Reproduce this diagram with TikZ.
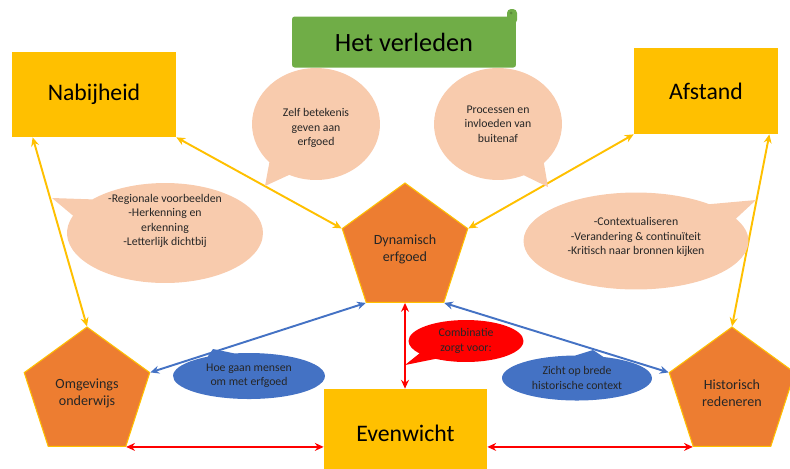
\documentclass[tikz,border=0pt]{standalone}
\usepackage{fontspec}
\setmainfont{Carlito}
\usetikzlibrary{shapes.geometric,shapes.callouts,arrows.meta,calc}

\definecolor{geel}{HTML}{FFC000}
\definecolor{oranje}{HTML}{ED7D31}
\definecolor{perzik}{HTML}{F8CBAD}
\definecolor{groen}{HTML}{70AD47}
\definecolor{blauw}{HTML}{4472C4}
\definecolor{rood}{HTML}{FF0000}
\definecolor{tekst}{HTML}{262626}

\tikzset{
	blok/.style={fill=geel, inner sep=0pt, text=black, font=\fontsize{13.5}{16}\selectfont},
	vijfhoek/.style={regular polygon, regular polygon sides=5, fill=oranje, draw=geel, line width=0.6pt,
		inner sep=0pt, minimum size=2.64cm, align=center, text=tekst, font=\fontsize{8}{9.6}\selectfont},
	wolk/.style={ellipse callout, fill=perzik, inner sep=0pt, callout pointer arc=22, align=center,
		text=tekst, font=\fontsize{6.7}{8.2}\selectfont},
	wolktekst/.style={align=center, inner sep=0pt, text=tekst, font=\fontsize{6.7}{8.2}\selectfont},
	pijl/.style={{Stealth[length=5pt,width=4.5pt]}-{Stealth[length=5pt,width=4.5pt]}, line width=1.1pt},
}

\begin{document}
\begin{tikzpicture}[x=0.02cm, y=-0.02cm]
		%%%%% START %%%%%
		\useasboundingbox (0, 0) rectangle (790, 468);
		
		% banner
		\node[fill=groen, rounded corners=1.5pt, minimum width=4.48cm, minimum height=1.02cm, inner sep=0pt,
			font=\fontsize{15}{18}\selectfont] (ban) at (404, 42) {Het verleden};
		\fill[groen, rounded corners=0.08cm] (507, 9) rectangle (517, 24);
		\fill[groen!80!black] (511, 13) circle (0.03cm);
		
		% blokken
		\node[blok, minimum width=3.28cm, minimum height=1.7cm] (nab) at (94, 94.5) {Nabijheid};
		\node[blok, minimum width=2.88cm, minimum height=1.72cm] (afs) at (706, 91) {Afstand};
		\node[blok, minimum width=3.26cm, minimum height=1.76cm] (ev) at (405.5, 433) {Evenwicht};
		
		% vijfhoeken
		\node[vijfhoek] (dyn) at (405, 249) {Dynamisch\\erfgoed};
		\node[vijfhoek] (omg) at (87, 393) {Omgevings\\onderwijs};
		\node[vijfhoek] (his) at (732, 393) {Historisch\\redeneren};
		
		% pijlen
		\draw[pijl, geel] (nab.south east) -- (dyn.corner 2);
		\draw[pijl, geel] (afs.south west) -- (dyn.corner 5);
		\draw[pijl, geel] ($(nab.south west)+(21, 0)$) -- (omg.corner 1);
		\draw[pijl, geel] ($(afs.south east)+(-9, 0)$) -- (his.corner 1);
		\draw[pijl, blauw] (dyn.corner 3) -- (omg.corner 5);
		\draw[pijl, blauw] (dyn.corner 4) -- (his.corner 2);
		\draw[pijl, rood] (dyn.south) -- (ev.north -| dyn.south);
		\draw[pijl, rood] (omg.corner 4) -- (ev.west |- omg.corner 4);
		\draw[pijl, rood] (ev.east |- his.corner 3) -- (his.corner 3);
		
		% wolkjes
		\coordinate (pzelf) at (265, 186);
		\coordinate (pproc) at (548, 187);
		\coordinate (preg) at (52, 198);
		\coordinate (pcon) at (756, 200);
		\coordinate (phoe) at (213, 349);
		\coordinate (pcom) at (405, 365);
		\coordinate (pzic) at (593, 350);
		
		\node[wolk, minimum width=2.56cm, minimum height=2.24cm, callout absolute pointer={(pzelf)}]
			(zelf) at (316, 124) {};
		\node[wolktekst] (zelftekst) at (316, 128) {Zelf betekenis\\geven aan\\erfgoed};
		\node[wolk, minimum width=2.56cm, minimum height=2.24cm, callout absolute pointer={(pproc)}]
			(proc) at (498, 124) {Processen en\\invloeden van\\buitenaf};
		\node[wolk, minimum width=3.92cm, minimum height=2cm, callout absolute pointer={(preg)}]
			(reg) at (165, 233) {};
		\node[wolktekst] (regtekst) at (165, 221) {-Regionale voorbeelden\\-Herkenning en\\erkenning\\-Letterlijk dichtbij};
		\node[wolk, minimum width=4.5cm, minimum height=1.94cm, callout absolute pointer={(pcon)}]
			(con) at (636, 241) {};
		\node[wolktekst] (contekst) at (636, 237) {-Contextualiseren\\-Verandering \& continuïteit\\-Kritisch naar bronnen kijken};
		\node[wolk, fill=blauw, minimum width=3.04cm, minimum height=0.92cm, callout absolute pointer={(phoe)}]
			(hoe) at (249, 376) {Hoe gaan mensen\\om met erfgoed};
		\node[wolk, fill=rood, minimum width=2.3cm, minimum height=0.84cm, callout absolute pointer={(pcom)}]
			(com) at (466, 341) {Combinatie\\zorgt voor:};
		\node[wolk, fill=blauw, minimum width=3cm, minimum height=0.9cm, callout absolute pointer={(pzic)}]
			(zic) at (577, 378) {Zicht op brede\\historische context};
		
		%%%%% END %%%%%
	\end{tikzpicture}
\end{document}
